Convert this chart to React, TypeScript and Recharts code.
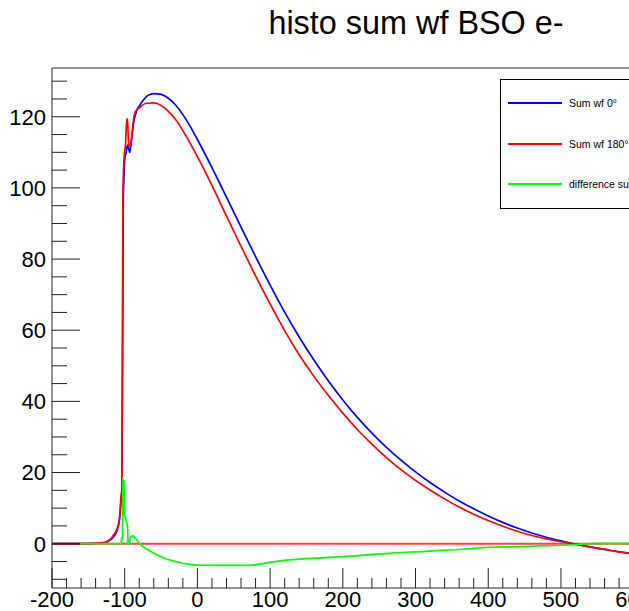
import { LineChart, Line, XAxis, YAxis, ReferenceLine, Legend } from 'recharts';

const FONT = '"Liberation Sans", Arial, Helvetica, sans-serif';

const X_MIN = -200;
const X_MAX = 650;
const Y_MIN = -12.45;
const Y_MAX = 133.7;

// tick labels
const X_LABELS = [-200, -100, 0, 100, 200, 300, 400, 500, 600];
const Y_LABELS = [0, 20, 40, 60, 80, 100, 120];
const X_TICKS: number[] = [];
for (let v = -200; v <= 640; v += 20) X_TICKS.push(v);
const Y_TICKS: number[] = [];
for (let v = -10; v <= 130; v += 5) Y_TICKS.push(v);

// Sum wf 0°
const sum0X = [
  -200, -160, -130, -120, -115, -110, -107, -105, -104, -103, -102, -101, -100, -98, -96, -93, -91, -88,
  -84, -80, -75, -68, -60, -50, -40, -30, -20, -10, 0, 20, 40, 60, 80, 100, 120, 140, 160, 180, 200,
  220, 240, 260, 280, 300, 320, 340, 360, 380, 400, 420, 440, 460, 480, 500, 520, 540, 560, 580, 600,
  620, 640, 650,
];
const sum0Y = [
  0, 0, 0.2, 1, 2, 4, 7, 12, 14, 50, 97, 103, 108, 110, 112, 110, 113, 118,
  121.5, 123, 124.5, 126, 126.5, 126.3, 125.2, 123.3, 120.6, 117.3, 113.6, 105.7, 97.4, 89, 80.7, 72.7, 65.1, 58.1, 51.7, 45.8, 40.4,
  35.5, 31.1, 27.1, 23.5, 20.2, 17.2, 14.5, 12, 9.8, 7.8, 6, 4.4, 3, 1.8, 0.8, -0.1, -0.9, -1.6, -2.3, -2.9,
  -3.5, -4, -4.2,
];

// Sum wf 180°
const sum180X = [
  -200, -160, -130, -120, -115, -110, -107, -105, -104, -103, -102.5, -101, -99, -97, -96, -95, -94, -92,
  -90, -88, -85, -80, -70, -60, -50, -40, -30, -20, -10, 0, 20, 40, 60, 80, 100, 120, 140, 160, 180, 200,
  220, 240, 260, 280, 300, 320, 340, 360, 380, 400, 420, 440, 460, 480, 500, 520, 540, 560, 580, 600,
  620, 640, 650,
];
const sum180Y = [
  0, 0, 0.3, 1.2, 2.5, 4.5, 7.5, 13.5, 15, 60, 97, 108, 112, 119.5, 118.5, 114, 111.6, 112,
  115, 119, 121.5, 122.5, 123.8, 123.9, 123.2, 121.5, 119.2, 116.1, 112.6, 108.8, 100.7, 92.1, 83.6, 75.3, 67.4, 59.9, 53.1, 47.1, 41.7, 36.7,
  32.1, 28, 24.2, 20.8, 17.8, 15.1, 12.6, 10.3, 8.3, 6.5, 4.9, 3.5, 2.3, 1.35, 0.55, -0.15, -0.9, -1.6, -2.3, -2.9,
  -3.5, -4, -4.2,
];

// difference sum
const diffX = [
  -162, -104.5, -104.5, -103, -102.5, -101, -100.5, -99, -97, -96, -95.5, -93, -92.5, -88, -85, -80, -72, -66,
  -55, -43, -30, -20, -10, 1, 30, 60, 76, 90, 104, 122, 150, 172, 195, 218, 241, 264, 287, 310, 333, 356,
  380, 402, 425, 447, 470, 493, 515, 540, 560, 600, 650,
];
const diffY = [
  0, 0, 1.5, 1.5, 18, 17.6, 8, 7.5, 5.5, 5, 0, 0, 1.8, 2.2, 1.5, 0, -1.2, -2,
  -3.2, -4.3, -5, -5.5, -5.8, -6, -6.1, -6.1, -6, -5.6, -5.1, -4.6, -4.2, -4, -3.7, -3.4, -3, -2.7, -2.4, -2.2, -1.9, -1.7,
  -1.3, -1, -0.9, -0.8, -0.6, -0.5, -0.3, 0, 0.1, 0.1, 0.1,
];

const toPoints = (xs: number[], ys: number[]) => xs.map((x, i) => ({ x, y: ys[i] }));

const series = [
  { name: 'Sum wf 0°', color: '#0000ff', curve: 'monotone', data: toPoints(sum0X, sum0Y) },
  { name: 'Sum wf 180°', color: '#ff0000', curve: 'monotone', data: toPoints(sum180X, sum180Y) },
  { name: 'difference sum', color: '#00ff00', curve: 'linear', data: toPoints(diffX, diffY) },
];

function YTick({ x, y, payload }: any) {
  const v = payload.value;
  const major = Y_LABELS.includes(v);
  return (
    <g>
      <line x1={x} x2={x + (major ? 28 : 15)} y1={y} y2={y} stroke="#222" />
      {major && (
        <text x={x - 6} y={y} dy="0.36em" textAnchor="end" fontSize={22} fontFamily={FONT} fill="#000">
          {v}
        </text>
      )}
    </g>
  );
}

function XTick({ x, y, payload }: any) {
  const v = payload.value;
  const major = X_LABELS.includes(v);
  return (
    <g>
      <line x1={x} x2={x} y1={y} y2={y - (major ? 20 : 10)} stroke="#222" />
      {major && (
        <text x={x} y={y + 19} textAnchor="middle" fontSize={22} fontFamily={FONT} fill="#000">
          {v}
        </text>
      )}
    </g>
  );
}

function LegendBox({ payload }: any) {
  return (
    <div
      style={{
        width: 200,
        height: 130,
        border: '1px solid #000',
        background: '#fff',
        boxSizing: 'border-box',
        paddingTop: 3,
        fontFamily: FONT,
      }}
    >
      {(payload ?? []).map((e: any) => (
        <div key={e.value} style={{ height: 40.5, display: 'flex', alignItems: 'center' }}>
          <div style={{ marginLeft: 7, width: 54, height: 2, background: e.color }} />
          <span style={{ marginLeft: 7, fontSize: 10.5, color: '#000', whiteSpace: 'nowrap' }}>{e.value}</span>
        </div>
      ))}
    </div>
  );
}

export default function App() {
  return (
    <div
      style={{
        position: 'fixed',
        left: 0,
        top: 0,
        width: 629,
        height: 611,
        overflow: 'hidden',
        background: '#fff',
      }}
    >
      <LineChart width={700} height={611} margin={{ top: 68, right: 30, bottom: 0, left: 0 }}>
        <XAxis
          type="number"
          dataKey="x"
          domain={[X_MIN, X_MAX]}
          ticks={X_TICKS}
          interval={0}
          allowDataOverflow
          height={23}
          tickSize={0}
          tickMargin={0}
          tickLine={false}
          axisLine={{ stroke: '#222' }}
          tick={<XTick />}
        />
        <YAxis
          type="number"
          domain={[Y_MIN, Y_MAX]}
          ticks={Y_TICKS}
          interval={0}
          allowDataOverflow
          width={52}
          tickSize={0}
          tickMargin={0}
          tickLine={false}
          axisLine={{ stroke: '#222' }}
          tick={<YTick />}
        />
        <ReferenceLine y={Y_MAX} stroke="#222" />
        <ReferenceLine y={0} stroke="#ff4444" strokeWidth={2} />
        <ReferenceLine
          segment={[
            { x: X_MIN, y: 0 },
            { x: -162, y: 0 },
          ]}
          stroke="#1f3d1f"
          strokeWidth={1.5}
        />
        {series.map((s) => (
          <Line
            key={s.name}
            data={s.data}
            dataKey="y"
            name={s.name}
            type={s.curve as any}
            stroke={s.color}
            strokeWidth={1.7}
            dot={false}
            activeDot={false}
            isAnimationActive={false}
          />
        ))}
        <Legend
          layout="vertical"
          align="center"
          verticalAlign="middle"
          content={<LegendBox />}
          wrapperStyle={{ left: 500, top: 79, right: 'auto', bottom: 'auto', width: 200, height: 130 }}
        />
      </LineChart>
      <div
        style={{
          position: 'absolute',
          left: 0,
          top: 7,
          width: 832,
          textAlign: 'center',
          fontFamily: FONT,
          fontSize: 32.4,
          lineHeight: 1,
          color: '#000',
        }}
      >
        histo sum wf BSO e-
      </div>
    </div>
  );
}
